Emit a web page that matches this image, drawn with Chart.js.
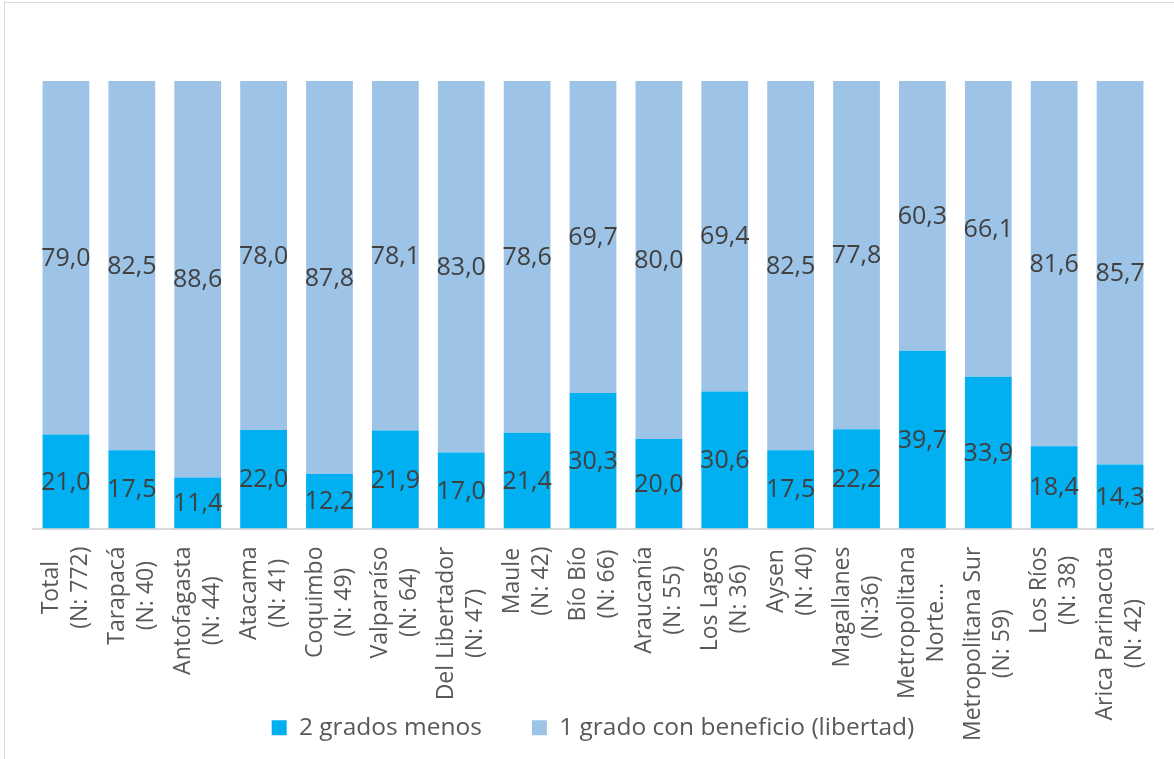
<!DOCTYPE html>
<html>
<head>
<meta charset="utf-8">
<script src="https://cdn.jsdelivr.net/npm/chart.js@4"></script>
<style>
  body { margin: 0; background: #fff; }
  #wrap { position: relative; width: 1174px; height: 759px; overflow: hidden; }
  #frame { position: absolute; left: 4px; top: 2px; width: 1200px; height: 800px; border: 1px solid #d9d9d9; }
  canvas { position: absolute; left: 0; top: 0; }
</style>
</head>
<body>
<div id="wrap">
  <div id="frame"></div>
  <canvas id="chart" width="1174" height="759"></canvas>
</div>
<script>
// categorías (cada una en dos líneas, como en el original)
const regiones = [
  ["Total", "(N: 772)"],
  ["Tarapacá", "(N: 40)"],
  ["Antofagasta", "(N: 44)"],
  ["Atacama", "(N: 41)"],
  ["Coquimbo", "(N: 49)"],
  ["Valparaíso", "(N: 64)"],
  ["Del Libertador", "(N: 47)"],
  ["Maule", "(N: 42)"],
  ["Bío Bío", "(N: 66)"],
  ["Araucanía", "(N: 55)"],
  ["Los Lagos", "(N: 36)"],
  ["Aysen", "(N: 40)"],
  ["Magallanes", "(N:36)"],
  ["Metropolitana", "Norte..."],
  ["Metropolitana Sur", "(N: 59)"],
  ["Los Ríos", "(N: 38)"],
  ["Arica Parinacota", "(N: 42)"]
];

const dosGradosMenos = [21.0, 17.5, 11.4, 22.0, 12.2, 21.9, 17.0, 21.4, 30.3, 20.0, 30.6, 17.5, 22.2, 39.7, 33.9, 18.4, 14.3];
const unGradoBeneficio = [79.0, 82.5, 88.6, 78.0, 87.8, 78.1, 83.0, 78.6, 69.7, 80.0, 69.4, 82.5, 77.8, 60.3, 66.1, 81.6, 85.7];

const FONT = "'Open Sans', sans-serif";

// ====================================================
// Etiquetas de valor centradas en cada segmento
// ====================================================
const valueLabels = {
  id: "valueLabels",
  afterDatasetsDraw(chart) {
    const ctx = chart.ctx;
    ctx.save();
    ctx.font = "25px " + FONT;
    ctx.fillStyle = "#404040";
    ctx.textAlign = "center";
    ctx.textBaseline = "middle";
    chart.data.datasets.forEach((ds, di) => {
      chart.getDatasetMeta(di).data.forEach((bar, i) => {
        const { x, y, base } = bar.getProps(["x", "y", "base"], true);
        ctx.fillText(ds.data[i].toFixed(1).replace(".", ","), x, (y + base) / 2 + 1);
      });
    });
    ctx.restore();
  }
};

// ====================================================
// Etiquetas del eje X giradas, líneas centradas entre sí
// ====================================================
const rotatedTicks = {
  id: "rotatedTicks",
  afterDraw(chart) {
    const ctx = chart.ctx;
    const scale = chart.scales.x;
    const top = scale.top + 18;
    const lineGap = 29;
    ctx.save();
    ctx.font = "23px " + FONT;
    ctx.fillStyle = "#595959";
    ctx.textAlign = "center";
    ctx.textBaseline = "middle";
    regiones.forEach((lines, i) => {
      const x = scale.getPixelForTick(i);
      const w = Math.max(...lines.map(l => ctx.measureText(l).width));
      ctx.save();
      ctx.translate(x, top);
      ctx.rotate(-Math.PI / 2);
      lines.forEach((l, j) => {
        ctx.fillText(l, -w / 2, (j - (lines.length - 1) / 2) * lineGap);
      });
      ctx.restore();
    });
    ctx.restore();
  }
};

new Chart(document.getElementById("chart"), {
  type: "bar",
  data: {
    labels: regiones,
    datasets: [
      {
        label: "2 grados menos",
        data: dosGradosMenos,
        backgroundColor: "#00B0F0",
        barPercentage: 0.71,
        categoryPercentage: 1
      },
      {
        label: "1 grado con beneficio (libertad)",
        data: unGradoBeneficio,
        backgroundColor: "#9DC3E6",
        barPercentage: 0.71,
        categoryPercentage: 1
      }
    ]
  },
  options: {
    responsive: false,
    animation: false,
    devicePixelRatio: 1,
    layout: { padding: { top: 81, left: 33, right: 21, bottom: 9 } },
    scales: {
      x: {
        stacked: true,
        grid: { display: false },
        border: { display: true, color: "#d9d9d9", width: 2 },
        ticks: { display: false },
        afterFit(scale) { scale.height = 137; }
      },
      y: { stacked: true, min: 0, max: 100, display: false }
    },
    plugins: {
      legend: {
        position: "bottom",
        maxHeight: 93,
        labels: {
          boxWidth: 15,
          boxHeight: 15,
          padding: 50,
          color: "#595959",
          font: { family: FONT, size: 24.5 }
        }
      },
      tooltip: { enabled: false }
    }
  },
  plugins: [valueLabels, rotatedTicks]
});
</script>
</body>
</html>
